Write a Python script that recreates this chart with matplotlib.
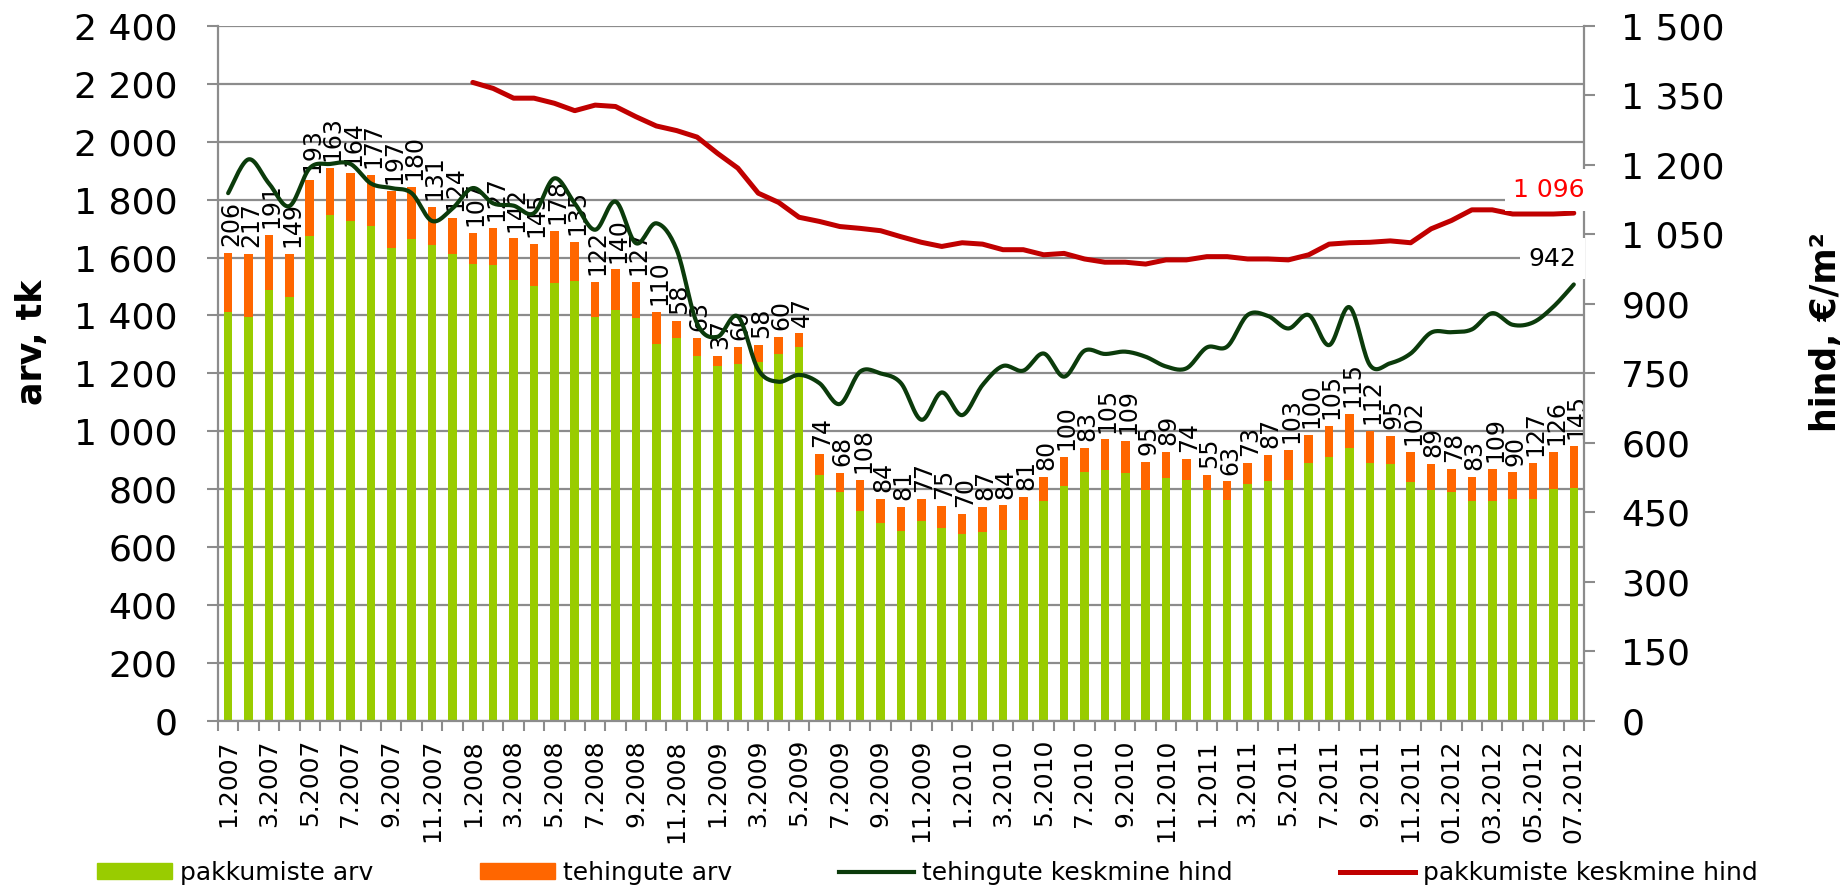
import numpy as np
import matplotlib
matplotlib.use('Agg')
import matplotlib.pyplot as plt
from matplotlib.ticker import FuncFormatter, FixedLocator
from matplotlib.lines import Line2D
from matplotlib.patches import Patch

# months 1.2007 .. 07.2012
years = [2007] * 12 + [2008] * 12 + [2009] * 12 + [2010] * 12 + [2011] * 12 + [2012] * 7
months = list(range(1, 13)) * 5 + list(range(1, 8))

# pakkumiste arv (green part of the bar)
pakkumised = [1411, 1396, 1487, 1464, 1676, 1747, 1728, 1709, 1633, 1665,
              1644, 1614, 1577, 1575, 1524, 1503, 1513, 1519, 1395, 1419,
              1390, 1301, 1323, 1259, 1224, 1232, 1240, 1267, 1291, 848,
              789, 725, 683, 657, 690, 668, 645, 651, 660, 694,
              761, 811, 859, 867, 857, 799, 839, 831, 796, 764,
              818, 830, 833, 889, 913, 944, 890, 888, 826, 799,
              791, 759, 760, 768, 765, 802, 803]

# tehingute arv (orange part, labelled)
tehingud = [206, 217, 191, 149, 193, 163, 164, 177, 197, 180,
            131, 124, 107, 127, 142, 145, 178, 135, 122, 140,
            127, 110, 58, 63, 37, 60, 58, 60, 47, 74,
            68, 108, 84, 81, 77, 75, 70, 87, 84, 81,
            80, 100, 83, 105, 109, 95, 89, 74, 55, 63,
            73, 87, 103, 100, 105, 115, 112, 95, 102, 89,
            78, 83, 109, 90, 127, 126, 145]

# tehingute keskmine hind, EUR/m2
tehingu_hind = [1139, 1212, 1160, 1111, 1193, 1202, 1202, 1160, 1150, 1139,
                1079, 1106, 1150, 1117, 1112, 1096, 1171, 1117, 1060, 1121,
                1031, 1074, 1017, 858, 829, 873, 758, 732, 747, 729,
                684, 754, 750, 729, 650, 709, 660, 725, 766, 756,
                793, 743, 799, 792, 797, 786, 765, 761, 806, 808,
                876, 874, 847, 876, 811, 893, 768, 772, 793, 838,
                839, 845, 880, 855, 860, 894, 942]

# pakkumiste keskmine hind, EUR/m2 (from 1.2008)
pakkumise_start = 12
pakkumise_hind = [1378, 1365, 1344, 1344, 1333, 1317, 1329, 1326, 1304, 1284,
                  1274, 1260, 1225, 1193, 1139, 1119, 1087, 1078, 1067, 1063,
                  1058, 1045, 1033, 1024, 1032, 1029, 1017, 1017, 1006, 1009,
                  997, 990, 990, 986, 995, 995, 1002, 1002, 997, 997,
                  995, 1006, 1029, 1032, 1033, 1036, 1032, 1062, 1080, 1103,
                  1103, 1094, 1094, 1094, 1096]

labels = []
for i, (y, m) in enumerate(zip(years, months)):
    if y == 2012:
        labels.append('%02d.%d' % (m, y))
    else:
        labels.append('%d.%d' % (m, y))

GREEN = '#99CC00'
ORANGE = '#FF6600'
DARK = '#0B3B0B'
RED = '#C00000'
GRID = '#8C8C8C'
NARROW = ['Liberation Sans Narrow', 'DejaVu Sans']


def smooth(xs, ys, n=16):
    # catmull-rom, only for drawing a smoothed line through the points
    p = np.column_stack([xs, ys]).astype(float)
    p = np.vstack([p[0], p, p[-1]])
    out = []
    t = np.linspace(0, 1, n, endpoint=False)[:, None]
    for i in range(1, len(p) - 2):
        p0, p1, p2, p3 = p[i - 1], p[i], p[i + 1], p[i + 2]
        seg = 0.5 * ((2 * p1) + (-p0 + p2) * t + (2 * p0 - 5 * p1 + 4 * p2 - p3) * t ** 2
                     + (-p0 + 3 * p1 - 3 * p2 + p3) * t ** 3)
        out.append(seg)
    out.append(p[-2][None, :])
    out = np.vstack(out)
    return out[:, 0], out[:, 1]


x = np.arange(len(pakkumised))
totals = np.array(pakkumised) + np.array(tehingud)

fig = plt.figure(figsize=(18.47, 8.89), dpi=100)
ax = fig.add_axes([0.118, 0.189, 0.7396, 0.7819])
ax2 = ax.twinx()

ax.bar(x, pakkumised, width=0.42, color=GREEN, zorder=2)
ax.bar(x, tehingud, width=0.42, bottom=pakkumised, color=ORANGE, zorder=2)

for xi, top, lab in zip(x, totals, tehingud):
    ax.annotate(str(lab), (xi, top), xytext=(2, 5), textcoords='offset points',
                rotation=90, ha='center', va='bottom', fontsize=17,
                family=NARROW, color='black', zorder=4)

ax.set_xlim(-0.5, len(x) - 0.5)
ax.set_ylim(0, 2400)
ax.set_yticks(np.arange(0, 2401, 200))
ax.yaxis.set_major_formatter(FuncFormatter(lambda v, p: '{:,}'.format(int(v)).replace(',', ' ')))
ax.grid(axis='y', color=GRID, linewidth=1.6, zorder=0)
ax.set_axisbelow(True)

# x axis: ticks between categories, labels every second month
ax.xaxis.set_major_locator(FixedLocator(np.arange(-0.5, len(x), 1.0)))
ax.xaxis.set_major_formatter(FuncFormatter(lambda v, p: ''))
ax.xaxis.set_minor_locator(FixedLocator(x[::2]))
ax.set_xticklabels([labels[i] for i in x[::2]], minor=True, rotation=90,
                   va='top', ha='center', fontsize=18, family=NARROW)
ax.tick_params(axis='x', which='major', length=7, width=1.5, color=GRID)
ax.tick_params(axis='x', which='minor', length=0, pad=13)
ax.tick_params(axis='y', length=8, width=1.5, color=GRID, labelsize=26, pad=21)

for s in ['top', 'right']:
    ax.spines[s].set_visible(False)
for s in ['left', 'bottom']:
    ax.spines[s].set_color(GRID)
    ax.spines[s].set_linewidth(1.6)

ax.set_ylabel('arv, tk', fontsize=25, fontweight='bold', family=NARROW)
ax.yaxis.set_label_coords(-0.124, 0.545)

# price lines
sx, sy = smooth(x, tehingu_hind)
ax2.plot(sx, sy, color=DARK, linewidth=3.0, solid_capstyle='round', zorder=3)
px = np.arange(pakkumise_start, pakkumise_start + len(pakkumise_hind))
ax2.plot(px, pakkumise_hind, color=RED, linewidth=3.6, solid_capstyle='round',
         solid_joinstyle='round', zorder=3)

ax2.set_ylim(0, 1500)
ax2.set_yticks(np.arange(0, 1501, 150))
ax2.yaxis.set_major_formatter(FuncFormatter(lambda v, p: '{:,}'.format(int(v)).replace(',', ' ')))
ax2.tick_params(axis='y', length=8, width=1.5, color=GRID, labelsize=26, pad=19)
for s in ['top', 'left', 'bottom']:
    ax2.spines[s].set_visible(False)
ax2.spines['right'].set_color(GRID)
ax2.spines['right'].set_linewidth(1.6)
ax2.set_ylabel('hind, €/m²', fontsize=25, fontweight='bold', family=NARROW, rotation=90)
ax2.yaxis.set_label_coords(1.165, 0.56)

ax2.annotate('1 096', (px[-1], pakkumise_hind[-1]), xytext=(8, 8), textcoords='offset points',
             ha='right', va='bottom', fontsize=18, color='#FF0000', zorder=5,
             bbox=dict(boxstyle='square,pad=0.35', fc='white', ec='none'),
             annotation_clip=False)
ax2.annotate('942', (x[-1], tehingu_hind[-1]), xytext=(2, 10), textcoords='offset points',
             ha='right', va='bottom', fontsize=18, color='black', zorder=5,
             bbox=dict(boxstyle='square,pad=0.35', fc='white', ec='none'),
             annotation_clip=False)

handles = [Patch(color=GREEN), Patch(color=ORANGE),
           Line2D([], [], color=DARK, linewidth=3.0),
           Line2D([], [], color=RED, linewidth=3.6)]
names = ['pakkumiste arv', 'tehingute arv', 'tehingute keskmine hind', 'pakkumiste keskmine hind']
fig.legend(handles, names, loc='center', bbox_to_anchor=(0.502, 0.018), ncol=4,
           frameon=False, fontsize=18, handlelength=3.0, handleheight=0.6,
           columnspacing=4.3, handletextpad=0.3)

fig.savefig('out.png', dpi=100)
